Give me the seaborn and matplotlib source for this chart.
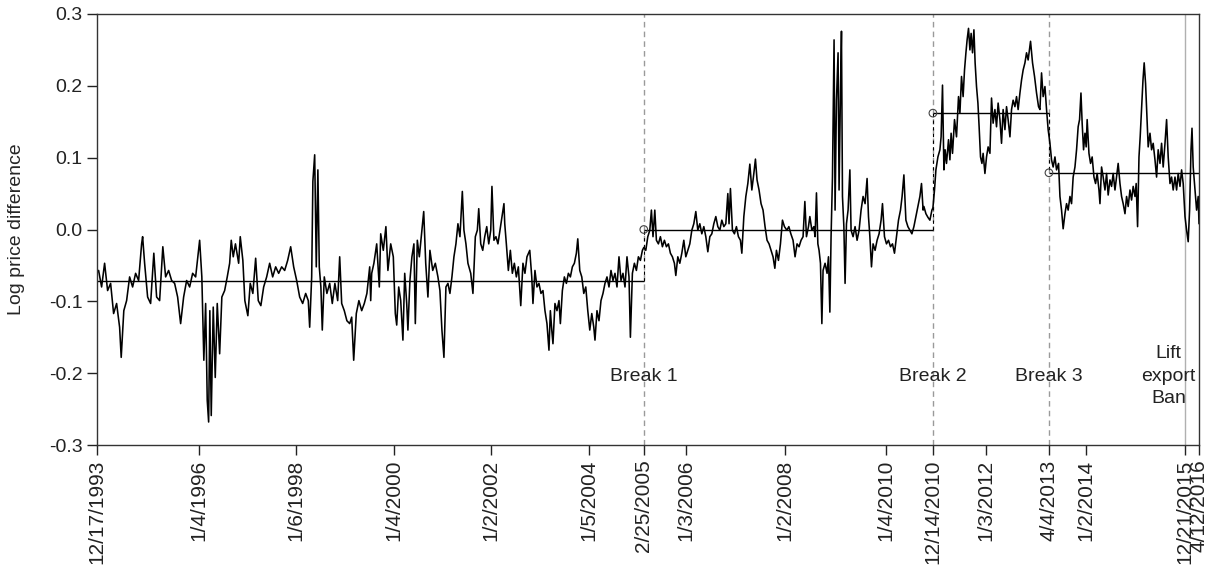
import numpy as np
import pandas as pd
import matplotlib.pyplot as plt
import seaborn as sns

# observation index (trading day since 12/17/1993) and log price difference, read off the figure
# regime 1: 12/17/1993 - 2/25/2005
obs_1 = [0, 8, 23, 38, 53, 68, 83, 98, 113, 121, 134, 148, 163, 178, 193, 208, 223, 228, 238, 253,
         268, 284, 298, 313, 329, 343, 358, 373, 388, 403, 418, 433, 448, 463, 478, 493, 513, 524,
         534, 543, 551, 558, 564, 571, 581, 591, 601, 613, 624, 638, 651, 663, 671, 681,
         692, 708, 716, 729, 739, 754, 766, 779, 793, 806, 819, 833, 848, 863, 878, 893, 908, 923,
         938, 953, 968, 983, 998, 1013, 1028, 1043, 1056, 1063, 1073, 1079, 1088, 1096, 1104, 1111,
         1119, 1126, 1136, 1149, 1163, 1176, 1189, 1203, 1213, 1223, 1236, 1249, 1263, 1273, 1283,
         1296, 1309, 1323, 1336, 1349, 1363,
         1368, 1373, 1384, 1398, 1411, 1418, 1431, 1444, 1454, 1468, 1481, 1491, 1498, 1508, 1518,
         1529, 1538, 1548, 1554, 1564, 1574, 1584, 1591, 1601, 1611, 1621, 1633, 1643, 1654, 1664,
         1678, 1691, 1704, 1714, 1724, 1734, 1744, 1754, 1764, 1774, 1784, 1794, 1804, 1814, 1826,
         1834, 1844, 1854, 1868, 1879, 1891, 1901, 1908, 1918, 1928, 1938, 1948, 1958, 1968, 1974,
         1984, 1994, 2004, 2014, 2024, 2034,
         2038, 2046, 2056, 2066, 2076, 2086, 2096, 2106, 2118, 2129, 2139, 2149, 2163, 2173, 2179,
         2189, 2199, 2209, 2219, 2229, 2239, 2249, 2259, 2266, 2273, 2279, 2289, 2299, 2309, 2316,
         2326, 2336, 2346, 2356, 2366, 2376, 2386, 2396, 2403, 2413, 2423, 2433, 2443, 2453, 2463,
         2473, 2483, 2489, 2499, 2509, 2519, 2529, 2539, 2549, 2559, 2569, 2579, 2589, 2599, 2609,
         2619, 2629, 2639, 2649, 2659, 2666, 2676, 2686, 2696, 2706, 2716, 2726]
val_1 = [-0.060, -0.057, -0.080, -0.047, -0.085, -0.075, -0.117, -0.103, -0.136, -0.178, -0.113,
         -0.099, -0.066, -0.080, -0.061, -0.071, -0.020, -0.010, -0.047, -0.094, -0.103, -0.033,
         -0.094, -0.099, -0.024, -0.066, -0.057, -0.071, -0.075, -0.094, -0.131, -0.094, -0.071,
         -0.080, -0.061, -0.066, -0.015, -0.066, -0.182, -0.103, -0.238, -0.268, -0.113, -0.259,
         -0.108, -0.206, -0.103, -0.173, -0.094, -0.085, -0.066, -0.047, -0.015, -0.038,
         -0.020, -0.047, -0.010, -0.043, -0.099, -0.120, -0.075, -0.089, -0.040, -0.099, -0.106,
         -0.080, -0.066, -0.047, -0.066, -0.052, -0.061, -0.052, -0.057, -0.043, -0.024, -0.052,
         -0.071, -0.094, -0.103, -0.089, -0.099, -0.136, -0.066, 0.067, 0.104, -0.052, 0.083,
         -0.052, -0.080, -0.140, -0.066, -0.089, -0.075, -0.103, -0.075, -0.099, -0.038, -0.103,
         -0.113, -0.127, -0.131, -0.122, -0.182, -0.117, -0.099, -0.113, -0.103, -0.089, -0.052,
         -0.099, -0.061, -0.047, -0.020, -0.080, -0.006, -0.029, 0.004, -0.057, -0.020, -0.038,
         -0.117, -0.133, -0.080, -0.099, -0.154, -0.061, -0.103, -0.140, -0.071, -0.038, -0.020,
         -0.131, -0.015, -0.038, -0.010, 0.025, -0.047, -0.094, -0.029, -0.057, -0.047, -0.066,
         -0.085, -0.140, -0.178, -0.080, -0.075, -0.089, -0.066, -0.038, -0.020, 0.008, -0.010,
         0.053, -0.001, -0.020, -0.047, -0.061, -0.089, -0.010, -0.001, 0.029, -0.020, -0.029,
         -0.010, 0.004, -0.020, -0.001, 0.060, -0.015, -0.010, -0.020, -0.001, 0.018, 0.036,
         0.008, -0.020, -0.057, -0.029, -0.061, -0.047, -0.066, -0.052, -0.106, -0.047, -0.061,
         -0.038, -0.029, -0.066, -0.103, -0.057, -0.080, -0.075, -0.089, -0.085, -0.113, -0.131,
         -0.168, -0.113, -0.140, -0.159, -0.103, -0.113, -0.099, -0.131, -0.085, -0.066, -0.075,
         -0.061, -0.066, -0.052, -0.047, -0.033, -0.013, -0.057, -0.066, -0.089, -0.080, -0.113,
         -0.140, -0.117, -0.136, -0.154, -0.113, -0.127, -0.099, -0.089, -0.075, -0.066, -0.080,
         -0.057, -0.071, -0.061, -0.080, -0.038, -0.071, -0.061, -0.080, -0.038, -0.066, -0.150,
         -0.061, -0.047, -0.057, -0.038, -0.043, -0.029]

# regime 2: 2/25/2005 - 12/14/2010
obs_2 = [2733, 2743, 2753, 2763, 2771, 2779, 2788, 2796, 2806, 2816, 2826, 2836, 2846, 2856, 2866,
         2876, 2886, 2893, 2903, 2913, 2923, 2933, 2943, 2953, 2963, 2973, 2983, 2993, 3003, 3013,
         3023, 3033, 3043, 3053, 3063, 3073, 3083, 3093, 3103, 3113, 3123, 3133, 3143, 3153, 3159,
         3166, 3176, 3186, 3196, 3206, 3216, 3223, 3233, 3243, 3253, 3263, 3273, 3283, 3291, 3299,
         3309, 3319, 3329, 3339, 3349, 3359, 3369, 3379, 3388, 3396, 3406, 3416, 3426, 3436,
         3448, 3458, 3468, 3479, 3489, 3499, 3509, 3519, 3529, 3538, 3546, 3556, 3563, 3573, 3583,
         3589, 3596, 3603, 3609, 3616, 3623, 3629, 3639, 3649, 3656, 3663, 3669, 3676, 3684, 3689,
         3696, 3704, 3709, 3716, 3721, 3726, 3733, 3739, 3746, 3754, 3763, 3769, 3779, 3789, 3799,
         3809, 3819, 3829, 3839, 3849, 3856, 3863, 3871, 3879, 3889, 3899, 3909, 3919, 3926, 3936,
         3946, 3956, 3966, 3976, 3986, 3996, 4006, 4016, 4024, 4033, 4043, 4053, 4063, 4073, 4083,
         4093, 4103, 4113, 4121, 4129, 4133, 4143, 4153, 4163, 4173]
val_2 = [-0.025, -0.029, -0.010, -0.001, 0.027, -0.010, 0.027, -0.015, -0.020, -0.010, -0.024,
         -0.015, -0.024, -0.020, -0.033, -0.038, -0.047, -0.064, -0.038, -0.047, -0.033, -0.015,
         -0.038, -0.029, -0.020, -0.001, 0.008, 0.025, -0.001, 0.008, -0.006, 0.004, -0.010,
         -0.031, -0.010, -0.006, 0.008, 0.018, 0.004, -0.001, 0.013, 0.004, 0.008, 0.050, 0.008,
         0.057, -0.001, -0.006, 0.004, -0.010, -0.015, -0.033, 0.018, 0.046, 0.064, 0.091, 0.055,
         0.078, 0.098, 0.069, 0.055, 0.036, 0.027, 0.004, -0.015, -0.020, -0.029, -0.038, -0.054,
         -0.029, -0.043, -0.020, 0.013, 0.004,
         -0.001, 0.004, -0.006, -0.015, -0.038, -0.020, -0.024, -0.015, -0.010, 0.039, -0.010,
         0.004, 0.018, -0.001, 0.004, -0.010, 0.051, -0.020, -0.029, -0.047, -0.131, -0.057,
         -0.047, -0.061, -0.038, -0.115, -0.010, 0.073, 0.264, 0.027, 0.180, 0.246, 0.055, 0.192,
         0.276, 0.046, 0.004, -0.075, 0.008, 0.027, 0.083, -0.001, -0.010, 0.004, -0.015, -0.001,
         0.027, 0.046, 0.036, 0.071, 0.018, -0.010, -0.052, -0.020, -0.029, -0.015, -0.006, 0.013,
         0.036, -0.010, -0.020, -0.015, -0.024, -0.020, -0.033, -0.010, 0.013, 0.027, 0.046,
         0.076, 0.013, 0.004, -0.001, -0.006, 0.004, 0.018, 0.032, 0.046, 0.064, 0.027, 0.032,
         0.022, 0.017, 0.013, 0.027]

# regime 3: 12/14/2010 - 4/4/2013
obs_3 = [4178, 4186, 4193, 4203, 4213, 4219, 4226, 4233, 4239, 4246, 4256, 4263, 4269, 4276, 4286,
         4296, 4306, 4313, 4321, 4329, 4336, 4343, 4349, 4356, 4363, 4369, 4376, 4383, 4389, 4396,
         4403, 4409, 4416, 4423, 4429, 4438, 4446, 4454, 4463, 4471, 4479, 4488, 4496, 4504, 4513,
         4521, 4529, 4538, 4546, 4554, 4563, 4571, 4579, 4588, 4596, 4604, 4613, 4621, 4629, 4638,
         4646, 4654, 4666, 4676, 4686, 4696, 4706, 4713, 4721, 4729, 4738, 4746, 4754]
val_3 = [0.030, 0.055, 0.083, 0.101, 0.111, 0.129, 0.201, 0.083, 0.111, 0.092, 0.125, 0.097,
         0.134, 0.106, 0.153, 0.129, 0.185, 0.162, 0.213, 0.185, 0.222, 0.246, 0.264, 0.280,
         0.250, 0.273, 0.246, 0.278, 0.232, 0.199, 0.176, 0.143, 0.101, 0.092, 0.106, 0.078,
         0.101, 0.115, 0.106, 0.183, 0.148, 0.167, 0.143, 0.176, 0.153, 0.120, 0.167, 0.139,
         0.171, 0.153, 0.129, 0.167, 0.180, 0.171, 0.185, 0.167, 0.190, 0.208, 0.222, 0.232,
         0.246, 0.236, 0.262, 0.232, 0.213, 0.190, 0.171, 0.167, 0.218, 0.185, 0.199, 0.167, 0.139]

# regime 4: 4/4/2013 - 4/12/2016
obs_4 = [4763, 4771, 4779, 4788, 4796, 4806, 4813, 4821, 4829, 4838, 4846, 4854, 4863, 4871, 4879,
         4888, 4896, 4904, 4911, 4918, 4924, 4931, 4938, 4944, 4949, 4958, 4966, 4974, 4983, 4991,
         4999, 5008, 5013, 5021, 5029, 5038, 5046, 5054, 5063, 5071, 5079, 5088, 5096, 5104, 5113,
         5121, 5129, 5138, 5146, 5154, 5163, 5171, 5179, 5188, 5194, 5201, 5208, 5214, 5221, 5228,
         5234, 5241, 5248, 5254, 5263, 5271, 5279, 5288, 5296, 5304, 5313, 5321, 5329, 5338, 5346,
         5354, 5363, 5371, 5379, 5388, 5396, 5404, 5413, 5421, 5429, 5438, 5446, 5454, 5461, 5468,
         5473, 5479, 5488, 5496, 5504, 5508]
val_4 = [0.120, 0.097, 0.087, 0.101, 0.083, 0.092, 0.046, 0.027, 0.001, 0.022, 0.036, 0.027,
         0.046, 0.036, 0.073, 0.087, 0.111, 0.143, 0.153, 0.190, 0.148, 0.111, 0.134, 0.115,
         0.153, 0.106, 0.092, 0.101, 0.073, 0.064, 0.078, 0.055, 0.036, 0.087, 0.073, 0.055,
         0.078, 0.048, 0.069, 0.060, 0.078, 0.055, 0.073, 0.092, 0.064, 0.046, 0.036, 0.022,
         0.046, 0.032, 0.055, 0.041, 0.060, 0.046, 0.064, 0.004, 0.101, 0.129, 0.167, 0.208,
         0.232, 0.203, 0.157, 0.115, 0.134, 0.111, 0.120, 0.097, 0.073, 0.111, 0.092, 0.120,
         0.087, 0.120, 0.153, 0.101, 0.064, 0.073, 0.055, 0.073, 0.055, 0.078, 0.060, 0.083,
         0.064, 0.018, -0.001, -0.017, 0.027, 0.111, 0.141, 0.087, 0.055, 0.027, 0.046, 0.008]

tick_labels = ['12/17/1993', '1/4/1996', '1/6/1998', '1/4/2000', '1/2/2002', '1/5/2004',
               '2/25/2005', '1/3/2006', '1/2/2008', '1/4/2010', '12/14/2010', '1/3/2012',
               '4/4/2013', '1/2/2014', '12/21/2015', '4/12/2016']
tick_obs = [0, 508, 993, 1483, 1968, 2458, 2733, 2943, 3438, 3943, 4178, 4443, 4758, 4943, 5438, 5508]

break_obs = [2733, 4178, 4758]
break_names = ['Break 1', 'Break 2', 'Break 3']
regime_mean = [-0.071, 0.0, 0.162, 0.079]
ban_obs = 5438
end_obs = 5508

df = pd.DataFrame({
    'obs': obs_1 + obs_2 + obs_3 + obs_4,
    'lpd': val_1 + val_2 + val_3 + val_4,
})

sns.set_style('ticks')
plt.rcParams['font.family'] = ['Liberation Sans', 'DejaVu Sans']

fig, ax = plt.subplots(figsize=(12.16, 5.71), dpi=100)
fig.subplots_adjust(left=97 / 1216, right=1199 / 1216, top=1 - 14 / 571, bottom=1 - 445 / 571)

sns.lineplot(data=df, x='obs', y='lpd', color='black', linewidth=1.15,
             estimator=None, sort=False, ax=ax)

# regime means and break markers
edges = [0] + break_obs + [end_obs]
for i, m in enumerate(regime_mean):
    ax.hlines(m, edges[i], edges[i + 1], color='black', linewidth=1)
for b in break_obs:
    ax.axvline(b, color='#9a9a9a', linestyle=(0, (4, 3)), linewidth=1, zorder=0)
ax.vlines(break_obs, regime_mean[:-1], regime_mean[1:], color='black',
          linestyle=(0, (3, 3)), linewidth=0.8)
ax.scatter(break_obs, regime_mean[1:], s=30, facecolors='none', edgecolors='#444444',
           linewidths=0.8, zorder=5)
ax.axvline(ban_obs, color='#b0b0b0', linewidth=1, zorder=0)

for b, name in zip(break_obs, break_names):
    ax.text(b, -0.205, name, ha='center', va='center', fontsize=14, color='#222222')
ax.text(5357, -0.204, 'Lift\nexport\nBan', ha='center', va='center', fontsize=14,
        color='#222222', linespacing=1.4)

ax.set_xlim(0, end_obs)
ax.set_ylim(-0.3, 0.3)
yt = [-0.3, -0.2, -0.1, 0.0, 0.1, 0.2, 0.3]
ax.set_yticks(yt, [f'{v:.1f}' for v in yt])
ax.set_xticks(tick_obs, tick_labels, rotation=90)
ax.set_xlabel('')
ax.set_ylabel('Log price difference', fontsize=14, labelpad=17)
ax.tick_params(axis='both', direction='out', length=7, width=1, labelsize=14, colors='#222222')
ax.tick_params(axis='x', labelsize=15)
for s in ax.spines.values():
    s.set_visible(True)
    s.set_color('#333333')
    s.set_linewidth(1)

plt.savefig('out.png', dpi=100)
